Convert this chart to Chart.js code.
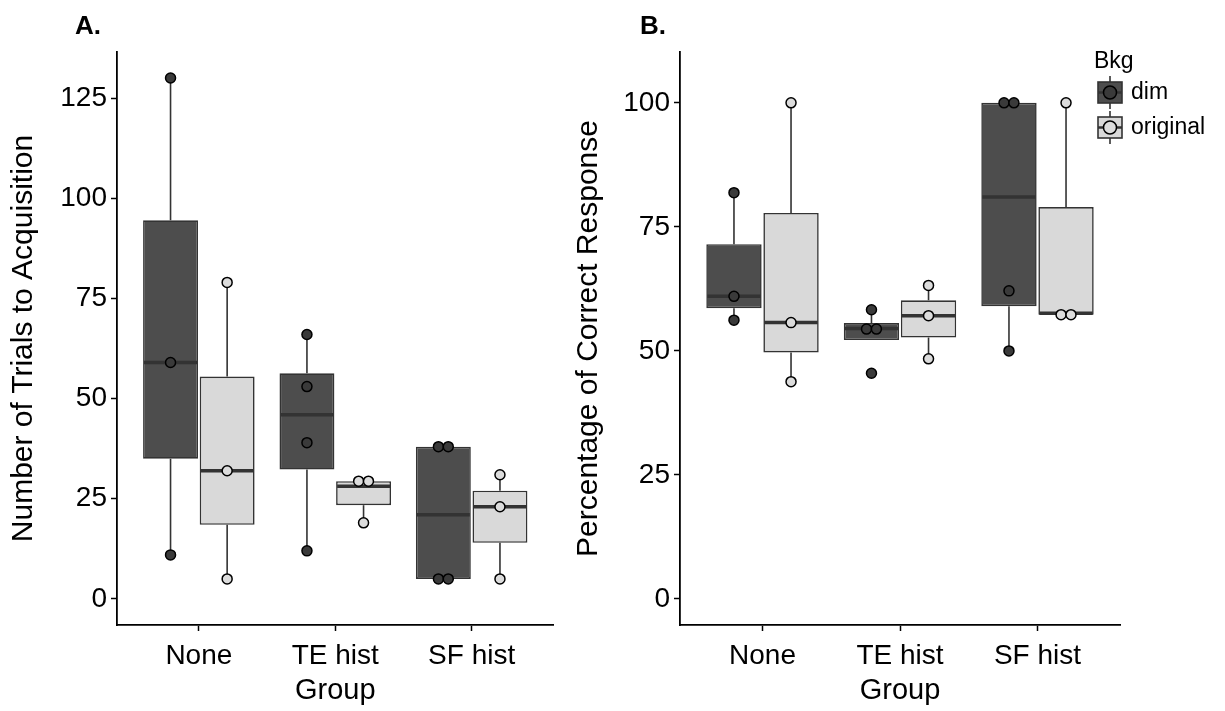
<!DOCTYPE html>
<html>
<head>
<meta charset="utf-8">
<script src="https://cdn.jsdelivr.net/npm/chart.js@4.4.0/dist/chart.umd.min.js"></script>
<style>
    body { margin: 0; background: #fff; width: 1225px; height: 711px; position: relative; overflow: hidden; }
    #chartA { position: absolute; left: 0; top: 0; }
    #chartB { position: absolute; left: 560px; top: 0; }
</style>
</head>
<body>
<canvas id="chartA" width="560" height="711"></canvas>
<canvas id="chartB" width="665" height="711"></canvas>
<script>
// categories
const groups = ['None', 'TE hist', 'SF hist'];
const bkgLevels = ['dim', 'original'];

// A. trials to acquisition
// box stats per group: [lower whisker, q1, median, q3, upper whisker]
const trialsDimBox = [[11, 35, 59, 94.5, 130], [12, 32.3, 46, 56.3, 66], [5, 5, 21, 38, 38]];
const trialsOrigBox = [[5, 18.5, 32, 55.5, 79], [19, 23.4, 28.1, 29.4, 29.4], [5, 14, 23, 27, 31]];
const trialsDimPts = [[130, 59, 11], [66, 53, 39, 12], [38, 38, 5, 5]];
const trialsOrigPts = [[79, 32, 5], [29.4, 29.4, 19], [31, 23, 5]];
const trialsTicks = [0, 25, 50, 75, 100, 125];

// B. percentage of correct response
const pctDimBox = [[56.2, 58.6, 61, 71.5, 81.9], [52.2, 52.2, 54.5, 55.6, 58.3], [50, 59, 81, 100, 100]];
const pctOrigBox = [[43.8, 49.7, 55.7, 77.8, 100], [48.4, 52.7, 57.1, 60.2, 63.2], [57.3, 57.3, 57.6, 79, 100]];
const pctDimPts = [[81.9, 61, 56.2], [58.3, 54.4, 54.4, 45.5], [100, 100, 62.1, 50]];
const pctOrigPts = [[100, 55.7, 43.8], [63.2, 57.1, 48.4], [100, 57.3, 57.3]];
const pctTicks = [0, 25, 50, 75, 100];

const FONT = "'Liberation Sans', Arial, sans-serif";
const dimFill = '#4d4d4d';
const origFill = '#d9d9d9';
const lineCol = '#333333';
const CAT_PCT = 0.83;
const DODGE = CAT_PCT / 4;   // offset of each box centre from the group centre
const PAIR = 0.036;          // side offset for tied points

function boxData(stats) {
    return stats.map((s, i) => ({ x: i + 1, y: [s[1], s[3]] }));
}

function pointData(pts, side) {
    const out = [];
    pts.forEach((vals, g) => {
        vals.forEach((v, k) => {
            const ties = vals.filter(u => u === v).length;
            const rank = vals.slice(0, k).filter(u => u === v).length;
            const spread = ties > 1 ? (rank === 0 ? -PAIR : PAIR) : 0;
            out.push({ x: g + 1 + side * DODGE + spread, y: v });
        });
    });
    return out;
}

// whiskers + medians, drawn right after each box dataset
const boxLines = {
    id: 'boxLines',
    afterDatasetDraw(chart, args) {
        const ds = chart.data.datasets[args.index];
        if (!ds.stats) return;
        const ctx = chart.ctx;
        const y = chart.scales.y;
        const meta = chart.getDatasetMeta(args.index);
        ctx.save();
        ctx.strokeStyle = lineCol;
        meta.data.forEach((bar, j) => {
            const s = ds.stats[j];
            ctx.lineWidth = 1.6;
            ctx.beginPath();
            ctx.moveTo(bar.x, y.getPixelForValue(s[0]));
            ctx.lineTo(bar.x, y.getPixelForValue(s[1]));
            ctx.moveTo(bar.x, y.getPixelForValue(s[3]));
            ctx.lineTo(bar.x, y.getPixelForValue(s[4]));
            ctx.stroke();
            ctx.lineWidth = 3.5;
            ctx.beginPath();
            const ym = y.getPixelForValue(s[2]);
            ctx.moveTo(bar.x - bar.width / 2 + 1, ym);
            ctx.lineTo(bar.x + bar.width / 2 - 1, ym);
            ctx.stroke();
        });
        ctx.restore();
    }
};

const panelLabel = {
    id: 'panelLabel',
    afterDraw(chart, args, opts) {
        const ctx = chart.ctx;
        ctx.save();
        ctx.font = 'bold 26px ' + FONT;
        ctx.fillStyle = '#000';
        ctx.textBaseline = 'alphabetic';
        ctx.fillText(opts.text, opts.x, opts.y);
        ctx.restore();
    }
};

const bkgLegend = {
    id: 'bkgLegend',
    afterDraw(chart, args, opts) {
        if (!opts.show) return;
        const ctx = chart.ctx;
        const fills = [dimFill, origFill];
        const ptFills = ['#3a3a3a', '#dcdcdc'];
        ctx.save();
        ctx.fillStyle = '#000';
        ctx.font = '23px ' + FONT;
        ctx.textBaseline = 'alphabetic';
        ctx.fillText('Bkg', opts.x - 4, opts.y);
        bkgLevels.forEach((lv, i) => {
            const top = opts.y + 14 + i * 35;
            const kx = opts.x, kw = 24, kh = 21;
            const cx = kx + kw / 2, cy = top + kh / 2;
            ctx.strokeStyle = lineCol;
            ctx.lineWidth = 1.6;
            ctx.beginPath();
            ctx.moveTo(cx, top - 6); ctx.lineTo(cx, top + kh + 6);
            ctx.stroke();
            ctx.fillStyle = fills[i];
            ctx.fillRect(kx, top, kw, kh);
            ctx.strokeRect(kx, top, kw, kh);
            ctx.lineWidth = 2.5;
            ctx.beginPath();
            ctx.moveTo(kx, cy); ctx.lineTo(kx + kw, cy);
            ctx.stroke();
            ctx.beginPath();
            ctx.arc(cx, cy, 6.5, 0, Math.PI * 2);
            ctx.fillStyle = ptFills[i];
            ctx.fill();
            ctx.lineWidth = 1.5;
            ctx.strokeStyle = '#000';
            ctx.stroke();
            ctx.fillStyle = '#000';
            ctx.textBaseline = 'middle';
            ctx.fillText(lv, kx + kw + 9, cy);
            ctx.textBaseline = 'alphabetic';
        });
        ctx.restore();
    }
};

function makePanel(canvasId, cfg) {
    return new Chart(document.getElementById(canvasId), {
        type: 'bar',
        data: {
            datasets: [
                { label: 'dim', data: boxData(cfg.dimBox), stats: cfg.dimBox, backgroundColor: dimFill, borderColor: lineCol, borderWidth: 1.6, borderSkipped: false, order: 2 },
                { label: 'original', data: boxData(cfg.origBox), stats: cfg.origBox, backgroundColor: origFill, borderColor: lineCol, borderWidth: 1.6, borderSkipped: false, order: 2 },
                { type: 'scatter', label: 'dim pts', data: pointData(cfg.dimPts, -1), backgroundColor: '#3a3a3a', borderColor: '#000', borderWidth: 1.5, pointRadius: 5, order: 1 },
                { type: 'scatter', label: 'original pts', data: pointData(cfg.origPts, 1), backgroundColor: '#dcdcdc', borderColor: '#000', borderWidth: 1.5, pointRadius: 5, order: 1 }
            ]
        },
        options: {
            responsive: false,
            animation: false,
            categoryPercentage: CAT_PCT,
            barPercentage: 0.97,
            layout: { padding: { top: 52, right: cfg.padRight, bottom: 0, left: 0 } },
            plugins: {
                legend: { display: false },
                tooltip: { enabled: false },
                panelLabel: cfg.label,
                bkgLegend: cfg.legend
            },
            scales: {
                x: {
                    type: 'linear',
                    offset: false,
                    min: 0.4,
                    max: 3.6,
                    afterBuildTicks: s => { s.ticks = groups.map((g, i) => ({ value: i + 1 })); },
                    afterFit: s => { s.height = 86; },
                    ticks: {
                        callback: (v, i) => groups[i],
                        font: { family: FONT, size: 28 },
                        color: '#000',
                        padding: 8,
                        maxRotation: 0,
                        autoSkip: false
                    },
                    grid: { display: true, offset: false, drawOnChartArea: false, drawTicks: true, tickLength: 6, tickColor: '#000', tickWidth: 1.5 },
                    border: { display: true, color: '#000', width: 1.8 },
                    title: { display: true, text: 'Group', color: '#000', font: { family: FONT, size: 29 }, padding: { top: 0, bottom: 3 } }
                },
                y: {
                    min: cfg.yMin,
                    max: cfg.yMax,
                    afterBuildTicks: s => { s.ticks = cfg.yTicks.map(v => ({ value: v })); },
                    afterFit: s => { s.width = cfg.yWidth; },
                    ticks: { font: { family: FONT, size: 28 }, color: '#000', padding: 4 },
                    grid: { display: true, drawOnChartArea: false, drawTicks: true, tickLength: 6, tickColor: '#000', tickWidth: 1.5 },
                    border: { display: true, color: '#000', width: 1.8 },
                    title: { display: true, text: cfg.yTitle, color: '#000', font: { family: FONT, size: 30 }, padding: { top: cfg.titlePad, bottom: 0 } }
                }
            }
        },
        plugins: [boxLines, panelLabel, bkgLegend]
    });
}

makePanel('chartA', {
    dimBox: trialsDimBox, origBox: trialsOrigBox, dimPts: trialsDimPts, origPts: trialsOrigPts,
    yMin: -6.5, yMax: 136.5, yTicks: trialsTicks, yTitle: 'Number of Trials to Acquisition',
    yWidth: 117, titlePad: 6, padRight: 3,
    label: { text: 'A.', x: 75, y: 34 },
    legend: { show: false }
});

makePanel('chartB', {
    dimBox: pctDimBox, origBox: pctOrigBox, dimPts: pctDimPts, origPts: pctOrigPts,
    yMin: -5.25, yMax: 110.25, yTicks: pctTicks, yTitle: 'Percentage of Correct Response',
    yWidth: 120, titlePad: 11, padRight: 105,
    label: { text: 'B.', x: 80, y: 34 },
    legend: { show: true, x: 538, y: 68 }
});
</script>
</body>
</html>
